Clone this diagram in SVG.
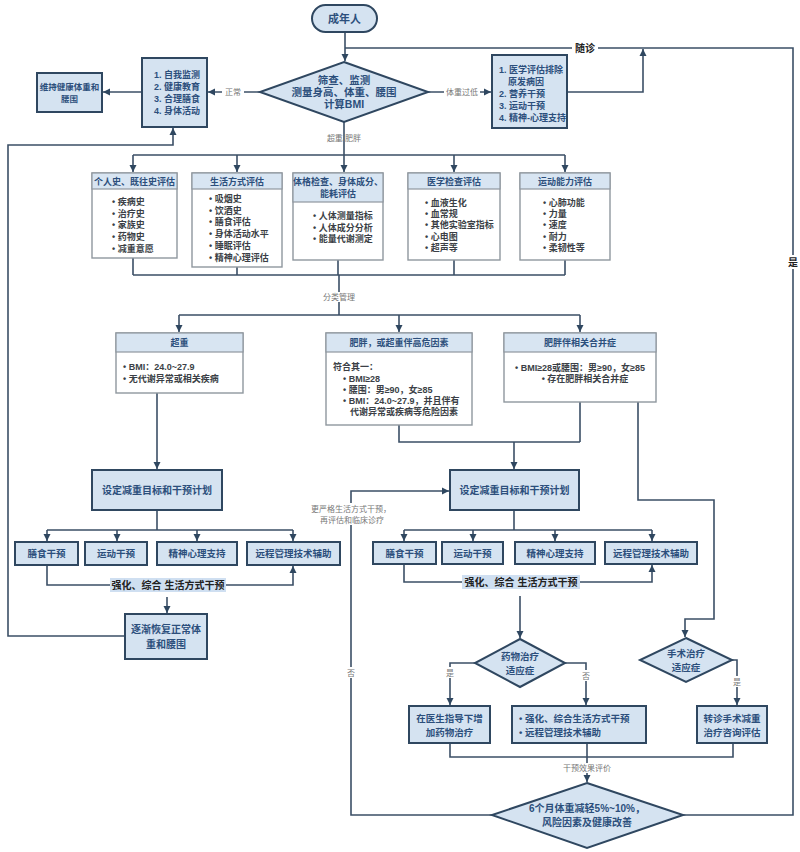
<svg xmlns="http://www.w3.org/2000/svg" width="800" height="852" viewBox="0 0 800 852">
<style>
text{font-family:"Liberation Sans","Noto Sans CJK SC",sans-serif}
.ln{stroke:#3b4f66;stroke-width:1.6;fill:none}
.nb{fill:#d5e3f1;stroke:#2f4760;stroke-width:2}
.ab{fill:#fff;stroke:#8f979e;stroke-width:1.4}
.ah{fill:#d8e5f2;stroke:#8f979e;stroke-width:1.2}
.t{fill:#2c4f7c;font-size:9.5px;font-weight:bold}
.tc{text-anchor:middle}
.it{fill:#3b3f46;font-size:9px;font-weight:bold}
.lb{fill:#777;font-size:8px;text-anchor:middle}
.bk{fill:#222;font-size:10px;font-weight:bold;text-anchor:middle}
</style>
<defs>
<marker id="ar" markerUnits="userSpaceOnUse" markerWidth="8" markerHeight="8" refX="7" refY="4" orient="auto"><path d="M0,0.5 L7,4 L0,7.5 z" fill="#2f4760"/></marker>
</defs>
<rect width="800" height="852" fill="#fff"/>
<g id="connectors">
<path class="ln" d="M345,32 V61" marker-end="url(#ar)"/>
<path class="ln" d="M683,815 H793 V48 H345"/>
<path class="ln" d="M567,92 H643 V49" marker-end="url(#ar)"/>
<path class="ln" d="M260,92 H208" marker-end="url(#ar)"/>
<path class="ln" d="M142,92 H103" marker-end="url(#ar)"/>
<path class="ln" d="M125,636 H8 V145 H173 V128" marker-end="url(#ar)"/>
<path class="ln" d="M428,92 H491" marker-end="url(#ar)"/>
<path class="ln" d="M344,122 V155 M133,155 H565"/>
<path class="ln" d="M133,155 V172" marker-end="url(#ar)"/>
<path class="ln" d="M237,155 V172" marker-end="url(#ar)"/>
<path class="ln" d="M344,155 V172" marker-end="url(#ar)"/>
<path class="ln" d="M454,155 V172" marker-end="url(#ar)"/>
<path class="ln" d="M565,155 V172" marker-end="url(#ar)"/>
<path class="ln" d="M133,258 V275 M237,267 V275 M338,260 V275 M454,260 V275 M565,260 V275 M133,275 H565 M339,275 V315 M179,315 H580"/>
<path class="ln" d="M179,315 V332" marker-end="url(#ar)"/>
<path class="ln" d="M399,315 V332" marker-end="url(#ar)"/>
<path class="ln" d="M580,315 V332" marker-end="url(#ar)"/>
<path class="ln" d="M157,393 V469" marker-end="url(#ar)"/>
<path class="ln" d="M157,510 V530 M47,530 H293"/>
<path class="ln" d="M47,530 V541" marker-end="url(#ar)"/>
<path class="ln" d="M117,530 V541" marker-end="url(#ar)"/>
<path class="ln" d="M197,530 V541" marker-end="url(#ar)"/>
<path class="ln" d="M293,530 V541" marker-end="url(#ar)"/>
<path class="ln" d="M47,565 V585 H293 V566" marker-end="url(#ar)"/>
<path class="ln" d="M167,597 V613" marker-end="url(#ar)"/>
<path class="ln" d="M399,425 V442 H580 M580,402 V442"/>
<path class="ln" d="M514,442 V469" marker-end="url(#ar)"/>
<path class="ln" d="M638,402 V500 H714 V619 H685 V637" marker-end="url(#ar)"/>
<path class="ln" d="M514,510 V530 M404,530 H652"/>
<path class="ln" d="M404,530 V541" marker-end="url(#ar)"/>
<path class="ln" d="M473,530 V541" marker-end="url(#ar)"/>
<path class="ln" d="M555,530 V541" marker-end="url(#ar)"/>
<path class="ln" d="M652,530 V541" marker-end="url(#ar)"/>
<path class="ln" d="M404,564 V582 H652 V565" marker-end="url(#ar)"/>
<path class="ln" d="M520,596 V638" marker-end="url(#ar)"/>
<path class="ln" d="M475,663 H450 V705" marker-end="url(#ar)"/>
<path class="ln" d="M565,663 H586 V705" marker-end="url(#ar)"/>
<path class="ln" d="M732,660 H737 V705" marker-end="url(#ar)"/>
<path class="ln" d="M450,743 V757 H733 V743"/>
<path class="ln" d="M587,743 V782" marker-end="url(#ar)"/>
<path class="ln" d="M492,815 H351 V491 H449" marker-end="url(#ar)"/>
<rect x="222" y="87" width="22" height="10" fill="#fff"/>
<text class="lb" x="233" y="95">正常</text>
<rect x="444" y="87" width="36" height="10" fill="#fff"/>
<text class="lb" x="462" y="95">体重过低</text>
<text class="lb" x="344" y="141">超重/肥胖</text>
<rect x="322" y="292" width="34" height="10" fill="#fff"/>
<text class="lb" x="339" y="300">分类管理</text>
<rect x="309" y="503" width="86" height="22" fill="#fff"/>
<text class="lb" x="351" y="512">更严格生活方式干预，</text>
<text class="lb" x="352" y="523">再评估和临床诊疗</text>
<rect x="345" y="667" width="12" height="11" fill="#fff"/>
<text class="lb" x="351" y="676">否</text>
<rect x="444" y="667" width="12" height="11" fill="#fff"/>
<text class="lb" x="450" y="676">是</text>
<rect x="580" y="670" width="12" height="11" fill="#fff"/>
<text class="lb" x="586" y="679">否</text>
<rect x="731" y="676" width="12" height="11" fill="#fff"/>
<text class="lb" x="737" y="685">是</text>
<rect x="563" y="763" width="48" height="10" fill="#fff"/>
<text class="lb" x="587" y="771">干预效果评价</text>
<rect x="786" y="255" width="14" height="14" fill="#fff"/>
<text class="bk" x="793" y="266">是</text>
<rect x="572" y="42" width="26" height="13" fill="#fff"/>
<text class="bk" x="585" y="52">随诊</text>
<rect x="110" y="578" width="116" height="14" fill="#cfdff1"/>
<text class="bk" x="168" y="589">强化、综合 生活方式干预</text>
<rect x="462" y="575" width="118" height="14" fill="#cfdff1"/>
<text class="bk" x="521" y="586">强化、综合 生活方式干预</text>
</g>
<g id="n-start"><rect class="nb" x="312" y="5" width="65" height="27" rx="13.5"/><text class="t tc" x="344.5" y="23" style="font-size:11px">成年人</text></g>
<g id="n-screen"><polygon class="nb" points="344,62 428,92 344,122 260,92"/>
<text class="t tc" x="344" y="84" style="font-size:10.5px">筛查、监测</text>
<text class="t tc" x="344" y="96" style="font-size:10.5px">测量身高、体重、腰围</text>
<text class="t tc" x="344" y="108" style="font-size:10.5px">计算BMI</text></g>
<g id="n-normal"><rect class="nb" x="142" y="58" width="65" height="69"/>
<text class="t" x="154" y="78" style="font-size:9px">1. 自我监测</text>
<text class="t" x="154" y="90" style="font-size:9px">2. 健康教育</text>
<text class="t" x="154" y="102" style="font-size:9px">3. 合理膳食</text>
<text class="t" x="154" y="114" style="font-size:9px">4. 身体活动</text></g>
<g id="n-keep"><rect class="nb" x="37" y="73" width="65" height="39"/>
<text class="t tc" x="69.5" y="90" style="font-size:8.5px">维持健康体重和</text>
<text class="t tc" x="69.5" y="102" style="font-size:8.5px">腰围</text></g>
<g id="n-low"><rect class="nb" x="492" y="55" width="75" height="73"/>
<text class="t" x="499" y="73" style="font-size:9px">1. 医学评估排除</text>
<text class="t" x="508" y="85" style="font-size:9px">原发病因</text>
<text class="t" x="499" y="97" style="font-size:9px">2. 营养干预</text>
<text class="t" x="499" y="109" style="font-size:9px">3. 运动干预</text>
<text class="t" x="499" y="121" style="font-size:9px">4. 精神-心理支持</text></g>
<g id="a-history"><rect class="ab" x="92" y="173" width="85" height="85"/><rect class="ah" x="92" y="173" width="85" height="16"/>
<text class="t tc" x="134.5" y="185" style="font-size:9px">个人史、既往史评估</text>
<text class="it" x="112" y="205">• 疾病史</text><text class="it" x="112" y="217">• 治疗史</text><text class="it" x="112" y="228">• 家族史</text><text class="it" x="112" y="240">• 药物史</text><text class="it" x="112" y="252">• 减重意愿</text></g>
<g id="a-life"><rect class="ab" x="192" y="173" width="90" height="94"/><rect class="ah" x="192" y="173" width="90" height="16"/>
<text class="t tc" x="237" y="185" style="font-size:9px">生活方式评估</text>
<text class="it" x="209" y="202">• 吸烟史</text><text class="it" x="209" y="214">• 饮酒史</text><text class="it" x="209" y="225">• 膳食评估</text><text class="it" x="209" y="237">• 身体活动水平</text><text class="it" x="209" y="249">• 睡眠评估</text><text class="it" x="209" y="261">• 精神心理评估</text></g>
<g id="a-body"><rect class="ab" x="293" y="173" width="90" height="87"/><rect class="ah" x="293" y="173" width="90" height="29"/>
<text class="t tc" x="338" y="185" style="font-size:9px">体格检查、身体成分、</text>
<text class="t tc" x="338" y="197" style="font-size:9px">能耗评估</text>
<text class="it" x="313" y="219">• 人体测量指标</text><text class="it" x="313" y="231">• 人体成分分析</text><text class="it" x="313" y="242">• 能量代谢测定</text></g>
<g id="a-medical"><rect class="ab" x="408" y="173" width="92" height="87"/><rect class="ah" x="408" y="173" width="92" height="16"/>
<text class="t tc" x="454" y="185" style="font-size:9px">医学检查评估</text>
<text class="it" x="425" y="206">• 血液生化</text><text class="it" x="425" y="217">• 血常规</text><text class="it" x="425" y="228">• 其他实验室指标</text><text class="it" x="425" y="240">• 心电图</text><text class="it" x="425" y="251">• 超声等</text></g>
<g id="a-sport"><rect class="ab" x="520" y="173" width="90" height="87"/><rect class="ah" x="520" y="173" width="90" height="16"/>
<text class="t tc" x="565" y="185" style="font-size:9px">运动能力评估</text>
<text class="it" x="543" y="206">• 心肺功能</text><text class="it" x="543" y="217">• 力量</text><text class="it" x="543" y="228">• 速度</text><text class="it" x="543" y="240">• 耐力</text><text class="it" x="543" y="251">• 柔韧性等</text></g>
<g id="c-over"><rect class="ab" x="116" y="333" width="127" height="60"/><rect class="ah" x="116" y="333" width="127" height="19"/>
<text class="t tc" x="179.5" y="346" style="font-size:9px">超重</text>
<text class="it" x="123" y="370">• BMI：24.0~27.9</text><text class="it" x="123" y="382">• 无代谢异常或相关疾病</text></g>
<g id="c-obese"><rect class="ab" x="326" y="333" width="146" height="92"/><rect class="ah" x="326" y="333" width="146" height="19"/>
<text class="t tc" x="399" y="346" style="font-size:9px">肥胖，或超重伴高危因素</text>
<text class="it" x="333" y="370">符合其一：</text>
<text class="it" x="343" y="382">• BMI≥28</text>
<text class="it" x="343" y="393">• 腰围：男≥90，女≥85</text>
<text class="it" x="343" y="404">• BMI：24.0~27.9，并且伴有</text>
<text class="it" x="350" y="415">代谢异常或疾病等危险因素</text></g>
<g id="c-comorb"><rect class="ab" x="504" y="333" width="152" height="69"/><rect class="ah" x="504" y="333" width="152" height="19"/>
<text class="t tc" x="580" y="346" style="font-size:9px">肥胖伴相关合并症</text>
<text class="it tc" x="580" y="371">• BMI≥28或腰围：男≥90，女≥85</text>
<text class="it tc" x="585" y="382">• 存在肥胖相关合并症</text></g>
<g id="n-plan1"><rect class="nb" x="92" y="470" width="130" height="40"/><text class="t tc" x="157" y="494" style="font-size:10px">设定减重目标和干预计划</text></g>
<g id="n-diet1"><rect class="nb" x="15" y="542" width="63" height="23"/><text class="t tc" x="46.5" y="557">膳食干预</text></g>
<g id="n-ex1"><rect class="nb" x="85" y="542" width="62" height="23"/><text class="t tc" x="116" y="557">运动干预</text></g>
<g id="n-psy1"><rect class="nb" x="157" y="542" width="80" height="23"/><text class="t tc" x="197" y="557">精神心理支持</text></g>
<g id="n-rem1"><rect class="nb" x="247" y="542" width="93" height="23"/><text class="t tc" x="293.5" y="557">远程管理技术辅助</text></g>
<g id="n-recover"><rect class="nb" x="125" y="614" width="82" height="45"/>
<text class="t tc" x="166" y="633" style="font-size:10px">逐渐恢复正常体</text>
<text class="t tc" x="166" y="648" style="font-size:10px">重和腰围</text></g>
<g id="n-plan2"><rect class="nb" x="450" y="470" width="129" height="40"/><text class="t tc" x="514.5" y="494" style="font-size:10px">设定减重目标和干预计划</text></g>
<g id="n-diet2"><rect class="nb" x="373" y="542" width="63" height="22"/><text class="t tc" x="404.5" y="557">膳食干预</text></g>
<g id="n-ex2"><rect class="nb" x="442" y="542" width="61" height="22"/><text class="t tc" x="472.5" y="557">运动干预</text></g>
<g id="n-psy2"><rect class="nb" x="515" y="542" width="80" height="22"/><text class="t tc" x="555" y="557">精神心理支持</text></g>
<g id="n-rem2"><rect class="nb" x="605" y="542" width="92" height="22"/><text class="t tc" x="651" y="557">远程管理技术辅助</text></g>
<g id="n-drug"><polygon class="nb" points="520,639 565,663 520,687 475,663"/>
<text class="t tc" x="520" y="660">药物治疗</text><text class="t tc" x="520" y="674">适应症</text></g>
<g id="n-surg"><polygon class="nb" points="686,638 732,660 686,682 640,660"/>
<text class="t tc" x="686" y="657">手术治疗</text><text class="t tc" x="686" y="671">适应症</text></g>
<g id="n-drugbox"><rect class="nb" x="409" y="706" width="81" height="37"/>
<text class="t tc" x="449.5" y="722" style="font-size:9.5px">在医生指导下增</text>
<text class="t tc" x="449.5" y="736" style="font-size:9.5px">加药物治疗</text></g>
<g id="n-lifebox"><rect class="nb" x="512" y="706" width="134" height="37"/>
<text class="t" x="519" y="722">• 强化、综合生活方式干预</text>
<text class="t" x="519" y="736">• 远程管理技术辅助</text></g>
<g id="n-surgbox"><rect class="nb" x="697" y="706" width="70" height="37"/>
<text class="t tc" x="732" y="722">转诊手术减重</text>
<text class="t tc" x="732" y="736">治疗咨询评估</text></g>
<g id="n-eval"><polygon class="nb" points="587,783 683,815 587,848 492,815"/>
<text class="t tc" x="587" y="812" style="font-size:10px">6个月体重减轻5%~10%，</text>
<text class="t tc" x="587" y="826" style="font-size:10px">风险因素及健康改善</text></g>
</svg>
